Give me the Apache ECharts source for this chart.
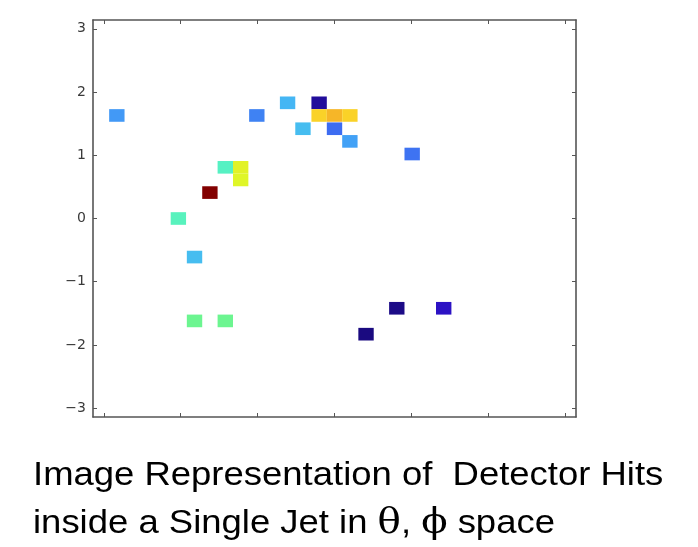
<!DOCTYPE html>
<html>
<head>
<meta charset="utf-8">
<script src="https://cdn.jsdelivr.net/npm/echarts@6/dist/echarts.min.js"></script>
<style>
html,body{margin:0;padding:0;background:#fff;}
#chart{width:698px;height:547px;}
</style>
</head>
<body>
<div id="chart"></div>
<script>
// theta (x) bin centres, phi (y) bin centres, deposited energy (normalised 0..1)
const thetaBins = [-2.83, -1.01, -0.61, -0.20, -0.20, 0.00, 0.20, -0.41, 0.00, 0.20, 1.01, -1.42, -1.22, -1.22, -1.62, -2.03, -1.82, -1.82, -1.42, 0.41, 0.81, 1.42];
const phiBins   = [ 1.63,  1.63,  1.83,  1.83,  1.63, 1.63, 1.63,  1.42, 1.42, 1.22, 1.02,  0.81,  0.81,  0.61,  0.41,  0.00, -0.61, -1.62, -1.62, -1.83, -1.42, -1.42];
const energy    = [ 0.27,  0.24,  0.31,  0.04,  0.70, 0.74, 0.70,  0.32, 0.21, 0.28, 0.22,  0.42,  0.62,  0.61,  1.00,  0.43,  0.32,  0.50,  0.50,  0.00,  0.01,  0.10];
const yTicks = [-3, -2, -1, 0, 1, 2, 3];
const xTicks = [-3, -2, -1, 0, 1, 2, 3];
const axisMin = -3.14, axisMax = 3.14;
const binSize = 0.2;

const cells = thetaBins.map((t, i) => [t, phiBins[i], energy[i]]);

const chart = echarts.init(document.getElementById('chart'));
const frame = {show: true, onZero: false, lineStyle: {color: '#555', width: 1.6}};
const tick = (vals) => ({show: true, inside: true, length: 4, customValues: vals, lineStyle: {color: '#555', width: 1}});
const fmt = v => (v < 0 ? '\u2212' + (-v) : String(v));
const titleFont = '33px "Liberation Sans", Arial, sans-serif';

chart.setOption({
  animation: false,
  backgroundColor: '#fff',
  grid: {left: 93, right: 122, top: 20, bottom: 130},
  xAxis: [
    {type: 'value', min: axisMin, max: axisMax, position: 'bottom', axisLine: frame, axisTick: tick(xTicks), axisLabel: {show: false}, splitLine: {show: false}},
    {type: 'value', min: axisMin, max: axisMax, position: 'top', axisLine: frame, axisTick: tick(xTicks), axisLabel: {show: false}, splitLine: {show: false}}
  ],
  yAxis: [
    {type: 'value', min: axisMin, max: axisMax, position: 'left', axisLine: frame, axisTick: tick(yTicks),
     axisLabel: {show: true, customValues: yTicks, formatter: fmt, color: '#3a3a3a', fontSize: 14, fontFamily: 'DejaVu Sans', margin: 7},
     splitLine: {show: false}},
    {type: 'value', min: axisMin, max: axisMax, position: 'right', axisLine: frame, axisTick: tick(yTicks), axisLabel: {show: false}, splitLine: {show: false}}
  ],
  visualMap: {
    show: false, type: 'continuous', min: 0, max: 1, dimension: 2, seriesIndex: 0,
    inRange: {color: ['#1a0a80', '#2c12c4', '#3c64f0', '#44b0f8', '#50f0d0', '#6cf590', '#dcfa28', '#fad228', '#f08c28', '#d02818', '#820000']}
  },
  series: [{
    type: 'custom',
    coordinateSystem: 'cartesian2d',
    data: cells,
    encode: {x: 0, y: 1},
    renderItem: function (params, api) {
      const x = api.value(0), y = api.value(1);
      const p1 = api.coord([x - binSize / 2, y + binSize / 2]);
      const p2 = api.coord([x + binSize / 2, y - binSize / 2]);
      return {type: 'rect', shape: {x: p1[0], y: p1[1], width: p2[0] - p1[0], height: p2[1] - p1[1]},
              style: {fill: api.visual('color')}};
    }
  }],
  graphic: [
    {type: 'text', x: 33, y: 459, scaleX: 1.105,
     style: {text: 'Image Representation of  Detector Hits', font: titleFont, fill: '#000', lineHeight: 34}},
    {type: 'text', x: 33, y: 507, scaleX: 1.105,
     style: {text: 'inside a Single Jet in {g|\u03B8}, {g|\u03D5} space', font: titleFont, fill: '#000', lineHeight: 34,
      rich: {g: {fontFamily: '"DejaVu Serif", "Liberation Serif", serif', fontSize: 35, fill: '#000', lineHeight: 34}}}}
  ]
});
</script>
</body>
</html>
